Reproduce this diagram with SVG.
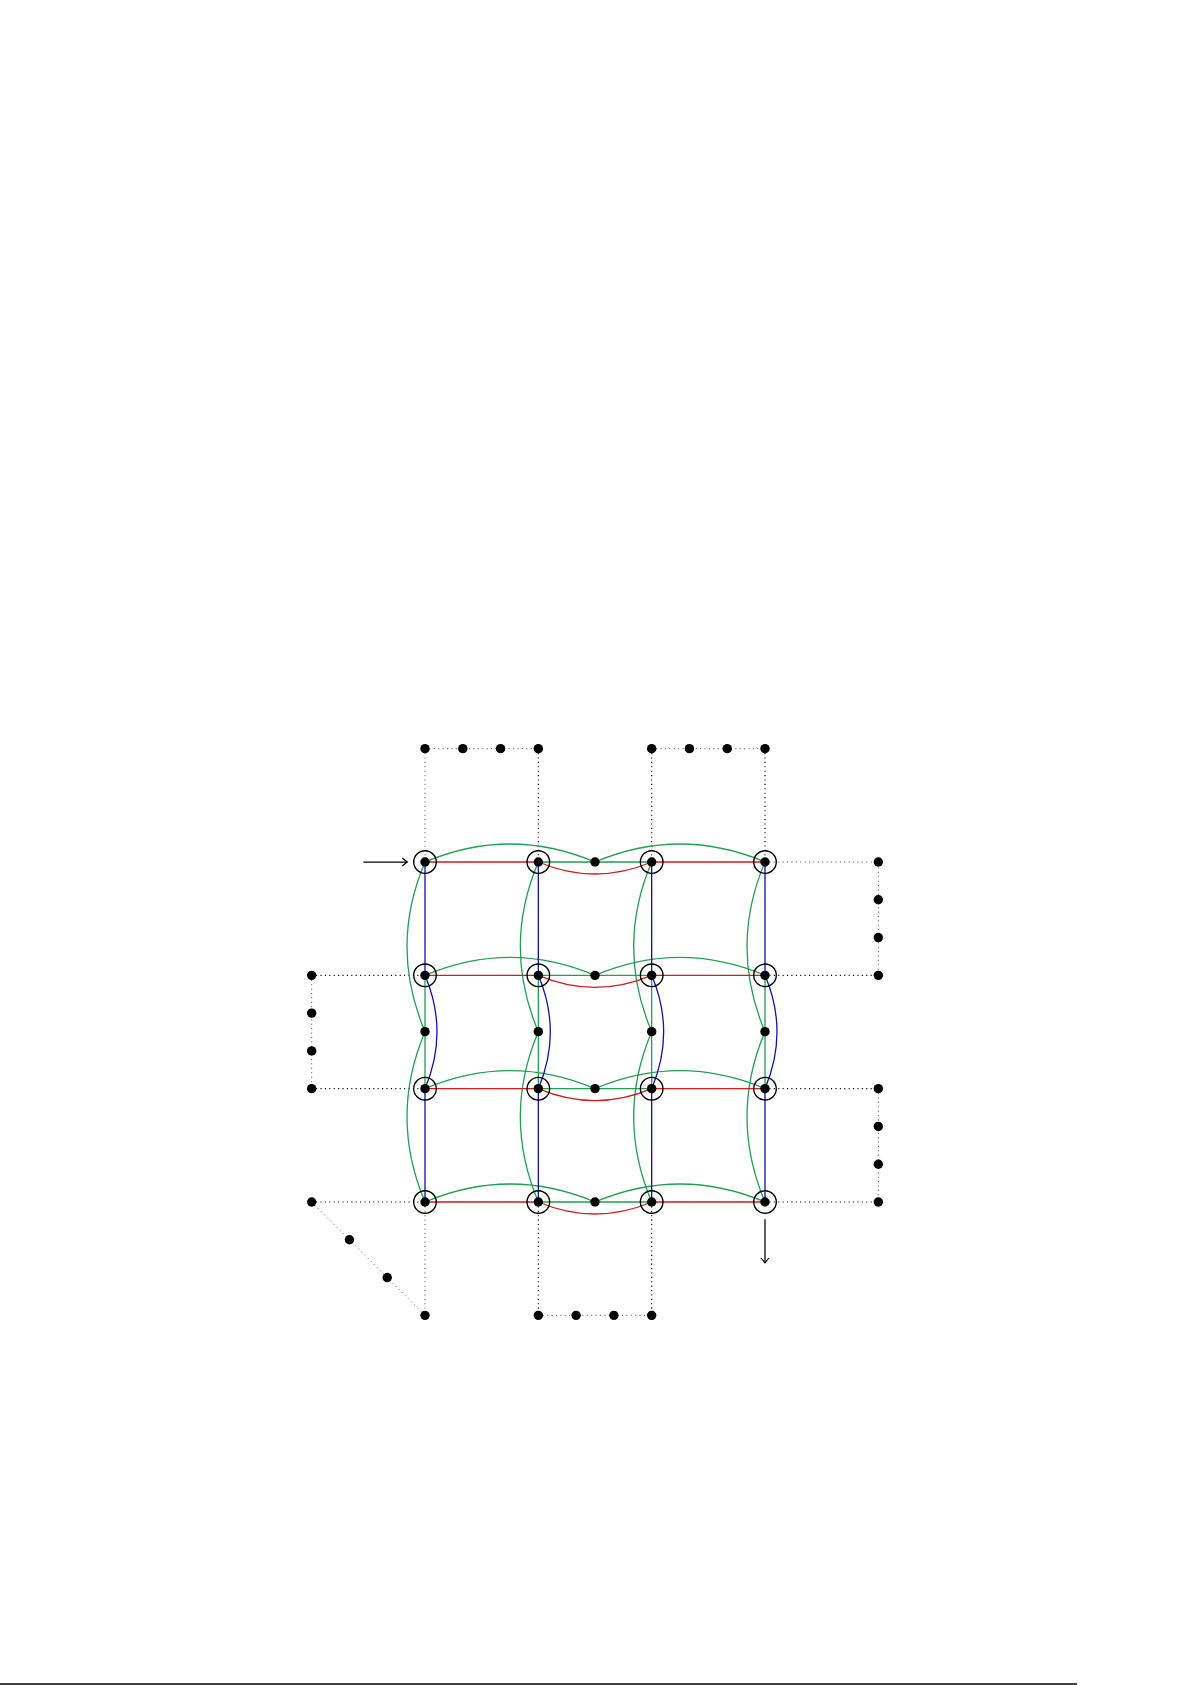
<svg xmlns="http://www.w3.org/2000/svg" width="1192" height="1685" viewBox="0 0 1192 1685">
<style>
.g{fill:none;stroke:#1fa052;stroke-width:1.3}
.r{fill:none;stroke:#d41c1c;stroke-width:1.3}
.b{fill:none;stroke:#1212a8;stroke-width:1.3}
.dk{fill:none;stroke:#000;stroke-width:1.15;stroke-dasharray:1.1 3.3}
.gy{fill:none;stroke:#5a5a5a;stroke-width:1;stroke-dasharray:1.1 3.3}
.ring{fill:none;stroke:#000;stroke-width:1.35}
.dot{fill:#000}
.ar{fill:none;stroke:#000;stroke-width:1.25}
</style>
<defs>
<marker id="arr" viewBox="-6 -5 8 10" markerWidth="8" markerHeight="10" refX="0" refY="0" orient="auto" markerUnits="userSpaceOnUse">
<path d="M-5,-4 Q-1.5,-1 0,0 Q-1.5,1 -5,4" fill="none" stroke="#000" stroke-width="1.15"/>
</marker>
</defs>
<rect width="1192" height="1685" fill="#fff"/>
<g id="connectors">
<path class="gy" d="M425,748.67 V862"/>
<path class="dk" d="M538.33,748.67 V862 M651.67,748.67 V862 M765,748.67 V862"/>
<path class="gy" d="M425,748.67 H538.33 M651.67,748.67 H765"/>
<path class="gy" d="M765,862 H878.33 V975.33"/>
<path class="dk" d="M765,975.33 H878.33"/>
<path class="dk" d="M311.67,975.33 H425 M311.67,1088.67 H425 M311.67,1202 H425"/>
<path class="gy" d="M311.67,975.33 V1088.67"/>
<path class="dk" d="M765,1088.67 H878.33 M765,1202 H878.33"/>
<path class="gy" d="M878.33,1088.67 V1202"/>
<path class="gy" d="M311.67,1202 L425,1315.33 M425,1202 V1315.33 M538.33,1315.33 H651.67"/>
<path class="dk" d="M538.33,1202 V1315.33 M651.67,1202 V1315.33"/>
<path class="g" d="M425,862 Q510,826 595,862 Q680,826 765,862 M538.33,862 H651.67"/>
<path class="g" d="M425,975.33 Q510,939.33 595,975.33 Q680,939.33 765,975.33 M538.33,975.33 H651.67"/>
<path class="g" d="M425,1088.67 Q510,1052.67 595,1088.67 Q680,1052.67 765,1088.67 M538.33,1088.67 H651.67"/>
<path class="g" d="M425,1202 Q510,1166 595,1202 Q680,1166 765,1202 M538.33,1202 H651.67"/>
<path class="g" d="M425,862 Q389,946.83 425,1031.67 Q389,1116.83 425,1202 M425,975.33 V1088.67"/>
<path class="g" d="M538.33,862 Q502.33,946.83 538.33,1031.67 Q502.33,1116.83 538.33,1202 M538.33,975.33 V1088.67"/>
<path class="g" d="M651.67,862 Q615.67,946.83 651.67,1031.67 Q615.67,1116.83 651.67,1202 M651.67,975.33 V1088.67"/>
<path class="g" d="M765,862 Q729,946.83 765,1031.67 Q729,1116.83 765,1202 M765,975.33 V1088.67"/>
<path class="r" d="M425,862 H538.33 Q595,886 651.67,862 H765"/>
<path class="r" d="M425,975.33 H538.33 Q595,999.33 651.67,975.33 H765"/>
<path class="r" d="M425,1088.67 H538.33 Q595,1112.67 651.67,1088.67 H765"/>
<path class="r" d="M425,1202 H538.33 Q595,1226 651.67,1202 H765"/>
<path class="b" d="M425,862 V975.33 Q449,1032 425,1088.67 V1202"/>
<path class="b" d="M538.33,862 V975.33 Q562.33,1032 538.33,1088.67 V1202"/>
<path class="b" d="M651.67,862 V975.33 Q675.67,1032 651.67,1088.67 V1202"/>
<path class="b" d="M765,862 V975.33 Q789,1032 765,1088.67 V1202"/>
<path class="ar" d="M363.3,862 H407.3" marker-end="url(#arr)"/>
<path class="ar" d="M765,1219.3 V1263" marker-end="url(#arr)"/>
</g>
<g id="grid-nodes">
<g id="n11"><circle class="ring" cx="425" cy="862" r="11.3"/><circle class="dot" cx="425" cy="862" r="4.7"/></g>
<g id="n12"><circle class="ring" cx="538.33" cy="862" r="11.3"/><circle class="dot" cx="538.33" cy="862" r="4.7"/></g>
<g id="n13"><circle class="ring" cx="651.67" cy="862" r="11.3"/><circle class="dot" cx="651.67" cy="862" r="4.7"/></g>
<g id="n14"><circle class="ring" cx="765" cy="862" r="11.3"/><circle class="dot" cx="765" cy="862" r="4.7"/></g>
<g id="n21"><circle class="ring" cx="425" cy="975.33" r="11.3"/><circle class="dot" cx="425" cy="975.33" r="4.7"/></g>
<g id="n22"><circle class="ring" cx="538.33" cy="975.33" r="11.3"/><circle class="dot" cx="538.33" cy="975.33" r="4.7"/></g>
<g id="n23"><circle class="ring" cx="651.67" cy="975.33" r="11.3"/><circle class="dot" cx="651.67" cy="975.33" r="4.7"/></g>
<g id="n24"><circle class="ring" cx="765" cy="975.33" r="11.3"/><circle class="dot" cx="765" cy="975.33" r="4.7"/></g>
<g id="n31"><circle class="ring" cx="425" cy="1088.67" r="11.3"/><circle class="dot" cx="425" cy="1088.67" r="4.7"/></g>
<g id="n32"><circle class="ring" cx="538.33" cy="1088.67" r="11.3"/><circle class="dot" cx="538.33" cy="1088.67" r="4.7"/></g>
<g id="n33"><circle class="ring" cx="651.67" cy="1088.67" r="11.3"/><circle class="dot" cx="651.67" cy="1088.67" r="4.7"/></g>
<g id="n34"><circle class="ring" cx="765" cy="1088.67" r="11.3"/><circle class="dot" cx="765" cy="1088.67" r="4.7"/></g>
<g id="n41"><circle class="ring" cx="425" cy="1202" r="11.3"/><circle class="dot" cx="425" cy="1202" r="4.7"/></g>
<g id="n42"><circle class="ring" cx="538.33" cy="1202" r="11.3"/><circle class="dot" cx="538.33" cy="1202" r="4.7"/></g>
<g id="n43"><circle class="ring" cx="651.67" cy="1202" r="11.3"/><circle class="dot" cx="651.67" cy="1202" r="4.7"/></g>
<g id="n44"><circle class="ring" cx="765" cy="1202" r="11.3"/><circle class="dot" cx="765" cy="1202" r="4.7"/></g>
</g>
<g id="mid-nodes">
<g id="mh1"><circle class="dot" cx="595" cy="862" r="4.7"/></g>
<g id="mh2"><circle class="dot" cx="595" cy="975.33" r="4.7"/></g>
<g id="mh3"><circle class="dot" cx="595" cy="1088.67" r="4.7"/></g>
<g id="mh4"><circle class="dot" cx="595" cy="1202" r="4.7"/></g>
<g id="mv1"><circle class="dot" cx="425" cy="1031.67" r="4.7"/></g>
<g id="mv2"><circle class="dot" cx="538.33" cy="1031.67" r="4.7"/></g>
<g id="mv3"><circle class="dot" cx="651.67" cy="1031.67" r="4.7"/></g>
<g id="mv4"><circle class="dot" cx="765" cy="1031.67" r="4.7"/></g>
</g>
<g id="outer-nodes">
<g id="t1"><circle class="dot" cx="425" cy="748.67" r="4.7"/></g>
<g id="t2"><circle class="dot" cx="462.78" cy="748.67" r="4.7"/></g>
<g id="t3"><circle class="dot" cx="500.56" cy="748.67" r="4.7"/></g>
<g id="t4"><circle class="dot" cx="538.33" cy="748.67" r="4.7"/></g>
<g id="t5"><circle class="dot" cx="651.67" cy="748.67" r="4.7"/></g>
<g id="t6"><circle class="dot" cx="689.44" cy="748.67" r="4.7"/></g>
<g id="t7"><circle class="dot" cx="727.22" cy="748.67" r="4.7"/></g>
<g id="t8"><circle class="dot" cx="765" cy="748.67" r="4.7"/></g>
<g id="r1"><circle class="dot" cx="878.33" cy="862" r="4.7"/></g>
<g id="r2"><circle class="dot" cx="878.33" cy="899.78" r="4.7"/></g>
<g id="r3"><circle class="dot" cx="878.33" cy="937.56" r="4.7"/></g>
<g id="r4"><circle class="dot" cx="878.33" cy="975.33" r="4.7"/></g>
<g id="r5"><circle class="dot" cx="878.33" cy="1088.67" r="4.7"/></g>
<g id="r6"><circle class="dot" cx="878.33" cy="1126.44" r="4.7"/></g>
<g id="r7"><circle class="dot" cx="878.33" cy="1164.22" r="4.7"/></g>
<g id="r8"><circle class="dot" cx="878.33" cy="1202" r="4.7"/></g>
<g id="l1"><circle class="dot" cx="311.67" cy="975.33" r="4.7"/></g>
<g id="l2"><circle class="dot" cx="311.67" cy="1013.11" r="4.7"/></g>
<g id="l3"><circle class="dot" cx="311.67" cy="1050.89" r="4.7"/></g>
<g id="l4"><circle class="dot" cx="311.67" cy="1088.67" r="4.7"/></g>
<g id="l5"><circle class="dot" cx="311.67" cy="1202" r="4.7"/></g>
<g id="d1"><circle class="dot" cx="349.44" cy="1239.78" r="4.7"/></g>
<g id="d2"><circle class="dot" cx="387.22" cy="1277.56" r="4.7"/></g>
<g id="d3"><circle class="dot" cx="425" cy="1315.33" r="4.7"/></g>
<g id="b1"><circle class="dot" cx="538.33" cy="1315.33" r="4.7"/></g>
<g id="b2"><circle class="dot" cx="576.11" cy="1315.33" r="4.7"/></g>
<g id="b3"><circle class="dot" cx="613.89" cy="1315.33" r="4.7"/></g>
<g id="b4"><circle class="dot" cx="651.67" cy="1315.33" r="4.7"/></g>
</g>
<line x1="0" y1="1684" x2="1077" y2="1684" stroke="#000" stroke-width="1.4"/>
</svg>
